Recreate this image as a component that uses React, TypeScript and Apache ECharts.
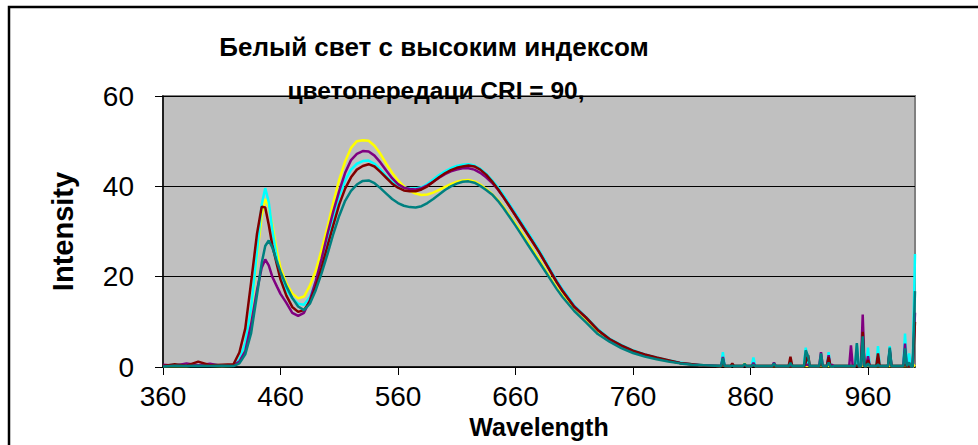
import React, { useEffect, useRef } from "react";
import * as echarts from "echarts";

// Wavelength grid (nm): visible band, then the near-IR tail with its narrow spikes
const wavelengths = [
  360, 370, 380, 390, 400, 410, 420,
  425, 430, 435, 440,
  444, 447, 450, 453, 457, 460,
  465, 470, 475, 480, 485, 490, 495, 500,
  505, 510, 515, 520, 525, 530, 535, 540,
  545, 550, 555, 560, 565, 570, 575, 580,
  585, 590, 595, 600, 605, 610, 615, 620,
  625, 630, 635, 640, 645, 650, 655, 660,
  665, 670, 675, 680, 685, 690, 695, 700,
  710, 720, 730, 740, 750, 760, 770, 780, 790, 800, 810, 820, 830,
  835, 836.5, 838, 843, 844.5, 846,
  853.5, 855, 856.5, 861, 862.5, 864,
  878.5, 880, 881.5, 892.5, 894, 895.5,
  905.5, 907, 909, 910.5, 918.5, 920,
  921.5, 925, 926.5, 928, 929.5, 931,
  944, 945.5, 947, 949, 950.5, 952,
  954, 955.5, 957, 958.5, 960, 961.5,
  967, 968.5, 970, 977, 978.5, 980,
  990, 991.5, 993, 995, 996.5, 998,
  1000,
];

const yellowValues = [
  0.2, 0.3, 0.2, 0.4, 0.3, 0.2, 0.3,
  1.4, 4.8, 12.5, 24.5,
  33.5, 37.2, 35.5, 31.5, 25.5, 22.0,
  18.5, 16.3, 15.2, 15.6, 18.0, 21.3, 26.0, 31.0,
  36.5, 41.5, 45.5, 48.5, 50.0, 50.2, 50.1, 49.0,
  47.2, 45.0, 43.0, 41.3, 40.0, 39.0, 38.4, 38.1,
  38.2, 38.6, 39.2, 39.9, 40.5, 41.0, 41.3, 41.4,
  41.1, 40.4, 39.4, 38.3, 37.0, 35.4, 33.5, 31.7,
  29.8, 27.8, 25.8, 23.8, 21.7, 19.6, 17.6, 15.8,
  12.6, 10.2, 7.6, 5.8, 4.4, 3.3, 2.5, 1.8, 1.3, 0.9, 0.6, 0.4, 0.3,
  0.2, 0.8, 0.2, 0.2, 0.3, 0.2,
  0.2, 0.8, 0.2, 0.2, 0.5, 0.2,
  0.2, 0.2, 0.2, 0.2, 0.2, 0.2,
  0.2, 0.2, 0.2, 0.2, 0.2, 0.2,
  0.2, 0.2, 0.2, 0.2, 0.1, 0.2,
  0.2, 0.2, 0.2, 0.2, 0.3, 0.2,
  0.2, 0.3, 0.2, 0.2, 0.3, 0.2,
  0.2, 0.2, 0.2, 0.2, 0.2, 0.2,
  0.2, 0.2, 0.2, 0.2, 0.2, 0,
  0.5,
];

const cyanValues = [
  0.3, 0.5, 0.4, 0.3, 0.6, 0.3, 0.4,
  1.6, 5.3, 13.0, 25.5,
  36.0, 39.6, 36.5, 30.5, 23.8, 20.1,
  17.1, 15.2, 14.0, 13.8, 15.5, 18.8, 23.3, 28.3,
  33.3, 37.8, 41.3, 43.7, 45.0, 45.6, 45.7, 45.0,
  43.7, 42.2, 41.0, 40.2, 39.7, 39.5, 39.5, 39.8,
  40.5, 41.5, 42.5, 43.3, 44.0, 44.5, 44.8, 44.9,
  44.6, 43.9, 42.8, 41.4, 39.8, 38.0, 36.0, 34.0,
  32.0, 30.0, 28.0, 25.9, 23.7, 21.4, 19.2, 17.2,
  13.6, 11.1, 8.4, 6.3, 4.9, 3.7, 2.8, 2.1, 1.5, 1.0, 0.6, 0.4, 0.3,
  0.3, 3.3, 0.3, 0.2, 0.3, 0.2,
  0.2, 0.3, 0.2, 0.2, 2.1, 0.2,
  0.2, 0.6, 0.2, 0.2, 0.5, 0.2,
  0.2, 4.3, 0.5, 0.2, 0.2, 2.0,
  0.2, 0.2, 3.3, 0.2, 0.1, 0.2,
  0.2, 0.2, 0.2, 0.2, 5.0, 0.2,
  0.2, 5.0, 0.2, 0.2, 4.3, 0.2,
  0.2, 4.6, 0.2, 0.2, 4.6, 0.2,
  0.2, 7.4, 0.2, 3.0, 0.2, 0,
  25.0,
];

const purpleValues = [
  0.5, 0.3, 0.8, 0.4, 0.7, 0.2, 0.4,
  1.2, 3.5, 9.5, 17.0,
  22.0, 23.8, 22.5, 20.0, 17.8, 16.2,
  14.2, 12.0, 11.3, 12.0, 14.8, 19.0, 24.0, 29.5,
  34.5, 39.0, 43.0, 45.8, 47.2, 47.8, 47.7, 46.8,
  45.3, 43.5, 41.8, 40.5, 39.7, 39.4, 39.3, 39.6,
  40.2, 41.0, 41.9, 42.7, 43.3, 43.7, 44.0, 44.0,
  43.7, 43.0, 42.0, 40.8, 39.3, 37.5, 35.6, 33.6,
  31.6, 29.6, 27.6, 25.5, 23.3, 21.1, 18.9, 16.9,
  13.4, 10.9, 8.2, 6.1, 4.7, 3.5, 2.7, 2.0, 1.4, 0.9, 0.6, 0.4, 0.3,
  0.2, 2.2, 0.2, 0.2, 0.3, 0.2,
  0.2, 0.3, 0.2, 0.2, 0.9, 0.2,
  0.2, 1.0, 0.2, 0.2, 0.3, 0.2,
  0.2, 0.5, 0.5, 0.2, 0.2, 3.3,
  0.2, 0.2, 2.6, 0.2, 0.5, 0.2,
  0.2, 4.8, 0.2, 0.2, 0.3, 0.2,
  0.2, 11.6, 0.2, 0.2, 2.4, 0.2,
  0.2, 0.3, 0.2, 0.2, 3.9, 0.2,
  0.2, 5.2, 0.2, 0.2, 0.2, 0,
  12.0,
];

const maroonValues = [
  0.2, 0.6, 0.3, 1.2, 0.4, 0.5, 0.6,
  3.2, 8.5, 18.8, 29.5,
  35.5, 35.3, 31.5, 27.0, 22.6, 19.4,
  15.8, 13.3, 12.2, 12.6, 14.5, 17.8, 22.0, 26.8,
  31.5, 36.0, 39.5, 42.0, 43.7, 44.5, 44.9, 44.4,
  43.2, 41.9, 40.6, 39.7, 39.1, 38.9, 38.9, 39.3,
  40.0, 41.0, 42.0, 42.9, 43.6, 44.1, 44.4, 44.6,
  44.4, 43.7, 42.6, 41.1, 39.4, 37.5, 35.5, 33.5,
  31.5, 29.5, 27.5, 25.5, 23.3, 21.0, 18.8, 16.8,
  13.3, 11.0, 8.2, 6.2, 4.8, 3.6, 2.8, 2.1, 1.5, 0.9, 0.6, 0.3, 0.2,
  0.2, 1.2, 0.2, 0.2, 0.8, 0.2,
  0.2, 0.3, 0.2, 0.2, 0.3, 0.2,
  0.2, 0.2, 0.2, 0.2, 2.3, 0.2,
  0.2, 1.0, 2.6, 0.2, 0.2, 1.0,
  0.2, 0.2, 2.2, 0.2, 0.1, 0.2,
  0.2, 0.2, 0.2, 0.2, 0.3, 0.2,
  0.2, 7.8, 0.2, 0.2, 1.5, 0.2,
  0.2, 3.0, 0.2, 0.2, 3.5, 0.2,
  0.2, 0.5, 0.2, 0.2, 0.2, 0,
  10.0,
];

const tealValues = [
  0.1, 0.3, 0.2, 0.3, 0.2, 0.3, 0.2,
  0.8, 2.8, 7.5, 16.0,
  23.0, 26.8, 28.0, 26.5, 23.3, 21.1,
  17.9, 15.3, 13.4, 12.6, 14.0, 17.0, 20.8, 25.0,
  29.5, 33.5, 36.8, 39.0, 40.4, 41.2, 41.3, 40.7,
  39.6, 38.4, 37.2, 36.3, 35.7, 35.4, 35.3, 35.6,
  36.3, 37.2, 38.2, 39.2, 40.0, 40.6, 41.0, 41.1,
  40.8, 40.1, 39.2, 38.2, 36.8, 35.1, 33.2, 31.3,
  29.3, 27.3, 25.3, 23.3, 21.3, 19.3, 17.3, 15.5,
  12.4, 9.9, 7.3, 5.6, 4.2, 3.1, 2.3, 1.7, 1.2, 0.8, 0.5, 0.4, 0.3,
  0.2, 2.0, 0.2, 0.2, 0.3, 0.2,
  0.2, 0.7, 0.2, 0.2, 0.5, 0.2,
  0.2, 0.8, 0.2, 0.2, 0.9, 0.2,
  0.2, 3.7, 2.4, 0.2, 0.2, 3.0,
  0.2, 0.2, 1.0, 0.2, 0.1, 0.2,
  0.2, 0.3, 0.2, 0.2, 5.3, 0.2,
  0.2, 6.8, 0.2, 0.2, 0.8, 0.2,
  0.2, 0.5, 0.2, 0.2, 4.3, 0.2,
  0.2, 4.1, 0.2, 1.0, 0.2, 0,
  16.8,
];

const xTickValues = [360, 460, 560, 660, 760, 860, 960];
const yTickValues = [0, 20, 40, 60];

const titleLines = ["Белый свет с высоким индексом", "цветопередаци CRI = 90,"];
const xAxisName = "Wavelength";
const yAxisName = "Intensity";

const seriesDefs = [
  { name: "Yellow", color: "#FFFF00", values: yellowValues },
  { name: "Cyan", color: "#00FFFF", values: cyanValues },
  { name: "Purple", color: "#800080", values: purpleValues },
  { name: "Maroon", color: "#800000", values: maroonValues },
  { name: "Teal", color: "#008080", values: tealValues },
];

const FONT = "'Liberation Sans', Arial, Helvetica, sans-serif";

export default function App() {
  const ref = useRef<HTMLDivElement>(null);

  useEffect(() => {
    if (!ref.current) return;
    const chart = echarts.init(ref.current, undefined, { renderer: "svg" });
    const option: any = {
      animation: false,
      textStyle: { fontFamily: FONT },
      backgroundColor: "#FFFFFF",
      grid: {
        left: 163,
        right: 63,
        top: 96,
        bottom: 78,
        show: true,
        backgroundColor: "#C0C0C0",
        borderColor: "#808080",
        borderWidth: 2,
        containLabel: false,
        outerBoundsMode: "none",
      },
      xAxis: {
        type: "value",
        min: 360,
        max: 1000,
        name: xAxisName,
        nameLocation: "middle",
        nameGap: 40,
        nameTextStyle: { fontSize: 25, fontWeight: "bold", color: "#000", fontFamily: FONT },
        axisLine: { show: true, onZero: false, lineStyle: { color: "#000", width: 1.5 } },
        axisTick: { show: true, inside: false, length: 8, customValues: xTickValues, lineStyle: { color: "#000", width: 1 } },
        axisLabel: { customValues: xTickValues, fontSize: 28, color: "#000", margin: 15, fontFamily: FONT },
        splitLine: { show: false },
      },
      yAxis: {
        type: "value",
        min: 0,
        max: 60,
        interval: 20,
        name: yAxisName,
        nameLocation: "middle",
        nameGap: 86,
        nameTextStyle: { fontSize: 29, fontWeight: "bold", color: "#000", fontFamily: FONT },
        axisLine: { show: true, lineStyle: { color: "#000", width: 1.5 } },
        axisTick: { show: true, inside: false, length: 8, customValues: yTickValues, lineStyle: { color: "#000", width: 1 } },
        axisLabel: { customValues: yTickValues, fontSize: 28, color: "#000", margin: 29, fontFamily: FONT },
        splitLine: { show: true, lineStyle: { color: "#000", width: 1 } },
      },
      series: seriesDefs.map((s) => ({
        name: s.name,
        type: "line",
        symbol: "none",
        silent: true,
        data: wavelengths.map((w, i) => [w, s.values[i]]),
        lineStyle: { color: s.color, width: 2.5 },
        itemStyle: { color: s.color },
      })),
      graphic: [
        {
          type: "rect",
          silent: true,
          z: 100,
          shape: { x: 9, y: 7, width: 1000, height: 500 },
          style: { fill: "none", stroke: "#000", lineWidth: 2.5 },
        },
        {
          type: "text",
          silent: true,
          z: 100,
          x: 434,
          y: 47,
          style: {
            text: titleLines[0],
            align: "center",
            verticalAlign: "middle",
            font: `bold 26px ${FONT}`,
            fill: "#000",
          },
        },
        {
          type: "text",
          silent: true,
          z: 100,
          x: 436,
          y: 90,
          style: {
            text: titleLines[1],
            align: "center",
            verticalAlign: "middle",
            font: `bold 24.5px ${FONT}`,
            fill: "#000",
          },
        },
      ],
    };
    chart.setOption(option);
    return () => chart.dispose();
  }, []);

  return (
    <div
      ref={ref}
      style={{ position: "absolute", left: 0, top: 0, width: 978, height: 445 }}
    />
  );
}
